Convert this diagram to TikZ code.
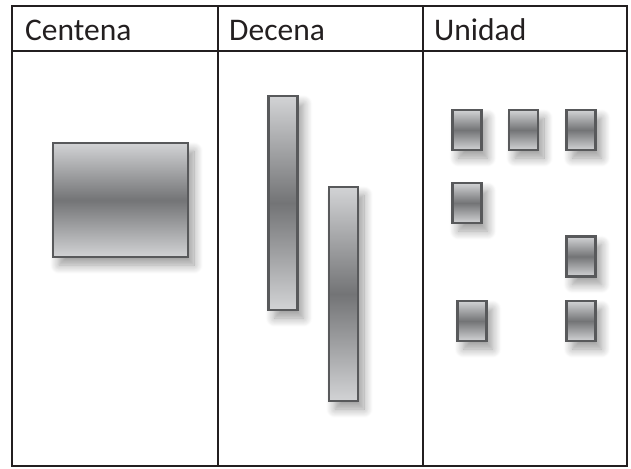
\documentclass[tikz,border=0pt]{standalone}
\usepackage{fontspec}
\setmainfont{Carlito}
\usetikzlibrary{shadows.blur}
\definecolor{rule}{HTML}{231F20}
\definecolor{edge}{HTML}{58595B}
\definecolor{light}{HTML}{D2D3D5}
\definecolor{dark}{HTML}{737476}
\tikzset{
  grid/.style={draw=rule, line width=2.8pt},
  head/.style={anchor=base west, inner sep=0pt, font=\fontsize{31.5}{36}\selectfont, text=rule},
  block/.style={rectangle, inner sep=0pt, draw=edge, line width=2.4pt,
    top color=light, bottom color=light, middle color=dark,
    blur shadow={shadow xshift=6pt, shadow yshift=-8pt, shadow blur radius=9pt, shadow blur steps=12, shadow opacity=40}},
}
\begin{document}
\begin{tikzpicture}[x=1pt,y=-1pt]
\useasboundingbox (0,0) rectangle (631,468);
% table
\coordinate (tl) at (12,6);
\coordinate (br) at (627,466);
\draw[grid] (tl) rectangle (br);
\coordinate (hl) at (12,51);
\coordinate (hr) at (627,51);
\draw[grid] (hl) -- (hr);
\coordinate (d1t) at (218,6);
\coordinate (d1b) at (218,466);
\coordinate (d2t) at (423,6);
\coordinate (d2b) at (423,466);
\draw[grid] (d1t) -- (d1b);
\draw[grid] (d2t) -- (d2b);
% headers
\node[head] (hc) at (25,41) {Centena};
\node[head] (hd) at (229,41) {Decena};
\node[head] (hu) at (434,41) {Unidad};
% centena
\node[block, minimum width=135pt, minimum height=114pt] (c1) at (120.5,200) {};
% decenas
\node[block, minimum width=29pt, minimum height=214pt] (d1) at (283,203) {};
\node[block, minimum width=29pt, minimum height=214pt] (d2) at (343.5,294) {};
% unidades
\tikzset{unit/.style={block, minimum width=29pt, minimum height=40pt}}
\node[unit] (u1) at (467,130) {};
\node[unit] (u2) at (523.5,130) {};
\node[unit] (u3) at (581,130) {};
\node[unit] (u4) at (467,203) {};
\node[unit] (u5) at (581,256.5) {};
\node[unit] (u6) at (472,321) {};
\node[unit] (u7) at (581,321) {};
\end{tikzpicture}
\end{document}
